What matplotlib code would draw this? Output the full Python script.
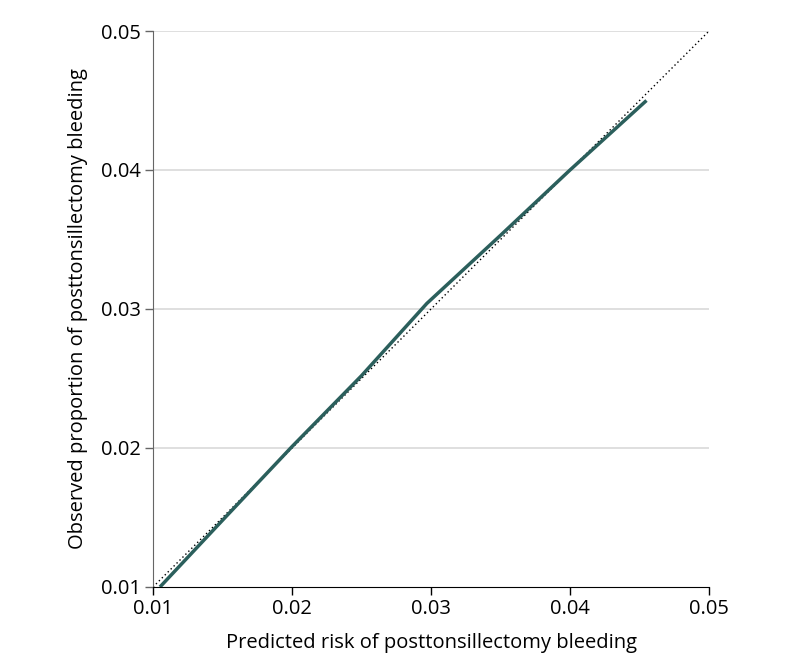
import matplotlib
matplotlib.use('Agg')
import matplotlib.pyplot as plt

# calibration curve
predicted = [0.0105, 0.015, 0.020, 0.025, 0.0297, 0.035, 0.040, 0.0455]
observed = [0.0100, 0.0148, 0.0201, 0.0252, 0.0304, 0.0353, 0.0400, 0.0450]
ticks = [0.01, 0.02, 0.03, 0.04, 0.05]
tick_labels = ['0.01', '0.02', '0.03', '0.04', '0.05']

plt.rcParams['font.family'] = ['Open Sans', 'DejaVu Sans']

fig = plt.figure(figsize=(7.94, 6.71), dpi=100)
ax = fig.add_axes([0.1927, 0.1252, 0.7003, 0.8286])

# horizontal grid lines
for t in ticks[1:]:
    ax.axhline(t, color='#d9d9d9', lw=1.2, zorder=0)

# reference diagonal
ax.plot([0.01, 0.05], [0.01, 0.05], color='black', lw=1, ls=(0, (1, 2)), zorder=2)
ax.plot(predicted, observed, color='#2b5f5c', lw=2.5, solid_capstyle='butt', zorder=3)

ax.set_xlim(0.01, 0.05)
ax.set_ylim(0.01, 0.05)
ax.set_xticks(ticks)
ax.set_xticklabels(tick_labels)
ax.set_yticks(ticks)
ax.set_yticklabels(tick_labels)

ax.spines['top'].set_visible(False)
ax.spines['right'].set_visible(False)
ax.spines['left'].set_color('#666666')
ax.spines['bottom'].set_color('black')
ax.tick_params(axis='both', labelsize=14.5, length=6, width=1, pad=3)
ax.tick_params(axis='y', color='#666666')

ax.set_xlabel('Predicted risk of posttonsillectomy bleeding', fontsize=14.5, labelpad=10)
ax.set_ylabel('Observed proportion of posttonsillectomy bleeding', fontsize=14.5, labelpad=9)

fig.savefig('out.png', dpi=100)
